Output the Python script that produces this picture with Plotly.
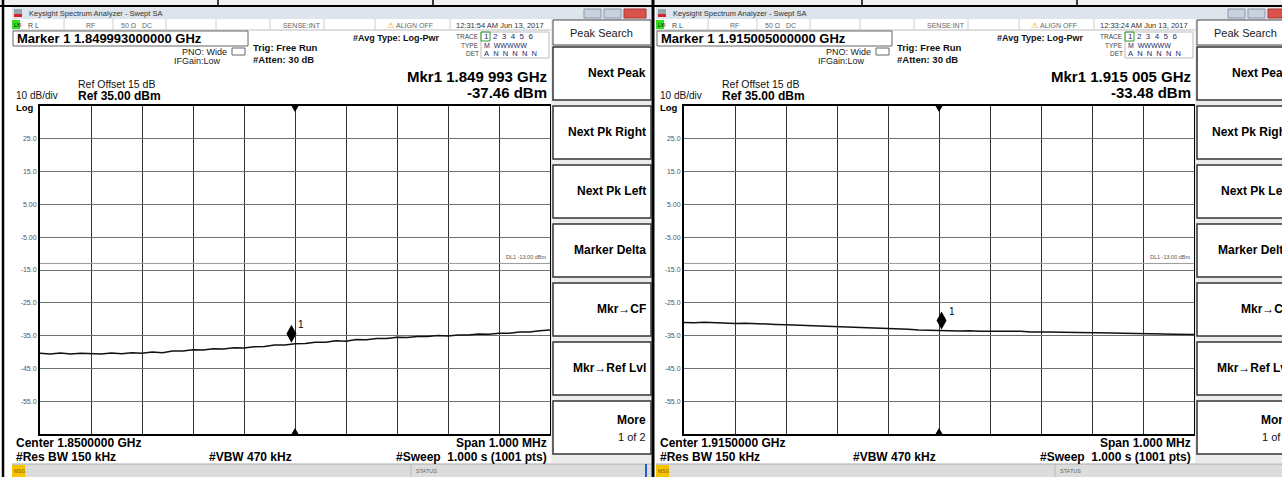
import plotly.graph_objects as go

W, H = 1282, 477

# ---------------- data ----------------
OFFSETS_KHZ = [-500, -480, -460, -440, -420, -400, -380, -360, -340, -320,
               -300, -280, -260, -240, -220, -200, -180, -160, -140, -120,
               -100, -80, -60, -40, -20, 0, 20, 40, 60, 80,
               100, 120, 140, 160, 180, 200, 220, 240, 260, 280,
               300, 320, 340, 360, 380, 400, 420, 440, 460, 480, 500]

LEFT_CENTER_MHZ = 1850.0
RIGHT_CENTER_MHZ = 1915.0
SPAN_MHZ = 1.0

LEFT_TRACE_DBM = [-40.4, -40.6, -40.3, -40.6, -40.4, -40.5, -40.6, -40.3, -40.5, -40.2,
                  -40.4, -40.0, -40.2, -39.7, -39.7, -39.3, -39.4, -39.0, -39.1, -38.7,
                  -38.8, -38.4, -38.3, -37.9, -37.9, -37.5, -37.4, -37.0, -37.0, -36.6,
                  -36.7, -36.2, -36.3, -35.9, -35.9, -35.5, -35.6, -35.3, -35.3, -35.0,
                  -35.1, -34.8, -34.8, -34.5, -34.6, -34.3, -34.3, -33.9, -33.9, -33.5, -33.3]

RIGHT_TRACE_DBM = [-31.0, -31.1, -30.9, -31.1, -31.2, -31.3, -31.2, -31.4, -31.4, -31.6,
                   -31.7, -31.8, -31.9, -32.0, -32.2, -32.3, -32.4, -32.5, -32.6, -32.8,
                   -32.9, -33.0, -33.1, -33.3, -33.3, -33.5, -33.5, -33.6, -33.5, -33.7,
                   -33.7, -33.6, -33.8, -33.7, -33.9, -33.8, -33.9, -34.0, -34.0, -34.1,
                   -34.1, -34.2, -34.2, -34.3, -34.3, -34.4, -34.5, -34.5, -34.6, -34.6, -34.7]

LEFT_MARKER_MHZ, LEFT_MARKER_DBM = 1849.993, -37.46
RIGHT_MARKER_MHZ, RIGHT_MARKER_DBM = 1915.005, -33.48

REF_LEVEL = 35.0
DB_PER_DIV = 10.0
N_DIV = 10
Y_TICKS = [25, 15, 5, -5, -15, -25, -35, -45, -55]
Y_TICK_TEXT = ["25.0", "15.0", "5.00", "-5.00", "-15.0", "-25.0", "-35.0", "-45.0", "-55.0"]
DISPLAY_LINE_DBM = -13.0

SOFTKEYS = ["Next Peak", "Next Pk Right", "Next Pk Left", "Marker Delta",
            "Mkr\u2192CF", "Mkr\u2192Ref Lvl", "More"]

SCREENS = [
    dict(dx=0, center=LEFT_CENTER_MHZ, trace=LEFT_TRACE_DBM,
         mk=LEFT_MARKER_MHZ, mkdb=LEFT_MARKER_DBM,
         marker_text="Marker 1 1.849993000000 GHz",
         mkr_freq="Mkr1 1.849 993 GHz", mkr_amp="-37.46 dBm",
         time="12:31:54 AM Jun 13, 2017",
         center_text="Center 1.8500000 GHz"),
    dict(dx=644, center=RIGHT_CENTER_MHZ, trace=RIGHT_TRACE_DBM,
         mk=RIGHT_MARKER_MHZ, mkdb=RIGHT_MARKER_DBM,
         marker_text="Marker 1 1.915005000000 GHz",
         mkr_freq="Mkr1 1.915 005 GHz", mkr_amp="-33.48 dBm",
         time="12:33:24 AM Jun 13, 2017",
         center_text="Center 1.9150000 GHz"),
]

# ---------------- helpers ----------------
shapes = []
annots = []
FONT = "Liberation Sans, Arial, sans-serif"
NARROW = "Liberation Sans Narrow, Arial Narrow, Liberation Sans, Arial, sans-serif"
NB = "\u00a0"


def rect(x0, y0, x1, y1, fill=None, line=None, lw=1):
    shapes.append(dict(type="rect", xref="paper", yref="paper",
                       x0=x0 / W, x1=x1 / W, y0=1 - y1 / H, y1=1 - y0 / H,
                       fillcolor=fill or "rgba(0,0,0,0)",
                       line=dict(color=line or "rgba(0,0,0,0)", width=lw if line else 0),
                       layer="above"))


def hline(x0, x1, y, color, lw=1):
    shapes.append(dict(type="line", xref="paper", yref="paper",
                       x0=x0 / W, x1=x1 / W, y0=1 - y / H, y1=1 - y / H,
                       line=dict(color=color, width=lw), layer="above"))


def vline(x, y0, y1, color, lw=1):
    shapes.append(dict(type="line", xref="paper", yref="paper",
                       x0=x / W, x1=x / W, y0=1 - y0 / H, y1=1 - y1 / H,
                       line=dict(color=color, width=lw), layer="above"))


def text(x, y, s, size=10, color="#000", bold=False, anchor="left", family=FONT):
    annots.append(dict(x=x / W, y=1 - y / H, xref="paper", yref="paper",
                       text=("<b>%s</b>" % s) if bold else s, showarrow=False,
                       xanchor=anchor, yanchor="middle", borderpad=0,
                       font=dict(size=size, color=color, family=family)))


fig = go.Figure()

# outer frame
rect(0, 0, W, 6, fill="#f1f1f1")
hline(0, W, 6, "#000", 2)
for xv in [218, 433, 862, 1077]:
    vline(xv, 0, 6, "#000", 1.5)
vline(3, 0, H, "#000", 2.5)
vline(653, 0, H, "#000", 3)

for i, sc in enumerate(SCREENS):
    dx = sc["dx"]
    ax = "" if i == 0 else "2"
    xname, yname = "x" + ax, "y" + ax

    # title bar
    rect(12 + dx, 7, 651 + dx, 19, fill="#dde4ec")
    rect(14 + dx, 9, 22 + dx, 17, fill="#9aa4ae")
    rect(14 + dx, 14, 22 + dx, 17, fill="#d2232a")
    text(28 + dx, 13, "Keysight Spectrum Analyzer - Swept SA", 7.5, "#333")
    rect(584 + dx, 9, 601 + dx, 18, fill="#c8d2de", line="#8a98a8")
    rect(604 + dx, 9, 621 + dx, 18, fill="#c8d2de", line="#8a98a8")
    rect(624 + dx, 9, 646 + dx, 18, fill="#d9534a", line="#a33")

    # status row
    rect(12 + dx, 19, 551 + dx, 30, fill="#ffffff")
    hline(12 + dx, 551 + dx, 30, "#bbb", 1)
    for sx in [64, 113, 166, 216, 270, 324, 375, 450]:
        vline(sx + dx, 19, 30, "#ccc", 1)
    rect(12 + dx, 20, 20 + dx, 29, fill="#33dd22")
    text(13 + dx, 25, "LXI", 5, "#000")
    text(27 + dx, 25, "R L", 7, "#444")
    text(85 + dx, 25, "RF", 7, "#666")
    text(120 + dx, 25, "50 \u03a9", 7, "#666")
    text(141 + dx, 25, "DC", 7, "#666")
    text(282 + dx, 25, "SENSE:INT", 7, "#666")
    text(386 + dx, 25, "\u26a0", 8, "#e0a000")
    text(395 + dx, 25, "ALIGN OFF", 7, "#666")
    text(455 + dx, 25, sc["time"], 7.5, "#333")

    # marker box
    rect(13 + dx, 31, 248 + dx, 46, fill="#fff", line="#666", lw=1)
    text(16 + dx, 39, sc["marker_text"], 13, "#000", bold=True)

    # header texts
    text(228 + dx, 52, "PNO: Wide", 9, "#222", anchor="right", family=NARROW)
    rect(232 + dx, 48, 245 + dx, 55, line="#666", lw=1)
    text(222 + dx, 61, "IFGain:Low", 9, "#222", anchor="right", family=NARROW)
    text(252 + dx, 48, "Trig: Free Run", 9.5, "#111", bold=True, family=NARROW)
    text(252 + dx, 59, "#Atten: 30 dB", 9.5, "#111", bold=True, family=NARROW)
    text(352 + dx, 38, "#Avg Type: Log-Pwr", 9, "#111", bold=True, family=NARROW)
    text(480 + dx, 36.5, "TRACE", 6.5, "#444", anchor="right")
    text(480 + dx, 45.5, "TYPE", 6.5, "#444", anchor="right")
    text(480 + dx, 54, "DET", 6.5, "#444", anchor="right")
    rect(481 + dx, 32, 549 + dx, 58, line="#bbb", lw=1)
    rect(481 + dx, 32, 490 + dx, 41, line="#2a9a2a", lw=1)
    text(483 + dx, 36.5, (NB * 2).join("123456"), 8, "#1a2a6a")
    text(483 + dx, 45.5, "M" + NB * 2 + "WWWWW", 7, "#1a2a6a")
    text(483 + dx, 54, (NB * 2).join("ANNNNN"), 7.5, "#1a2a6a")

    text(548 + dx, 76, sc["mkr_freq"], 15, "#000", bold=True, anchor="right")
    text(548 + dx, 92, sc["mkr_amp"], 15, "#000", bold=True, anchor="right")
    text(77 + dx, 84, "Ref Offset 15 dB", 10.5, "#111")
    text(77 + dx, 96, "Ref 35.00 dBm", 12, "#000", bold=True)
    text(15 + dx, 95, "10 dB/div", 10, "#111")
    text(15 + dx, 107, "Log", 9.5, "#000", bold=True)

    # bottom texts
    text(15 + dx, 443, sc["center_text"], 12, "#000", bold=True)
    text(548 + dx, 443, "Span 1.000 MHz", 12, "#000", bold=True, anchor="right")
    text(15 + dx, 457, "#Res BW 150 kHz", 12, "#000", bold=True)
    text(208 + dx, 457, "#VBW 470 kHz", 12, "#000", bold=True)
    text(548 + dx, 457, "#Sweep  1.000 s (1001 pts)", 12, "#000", bold=True, anchor="right")

    # status bar
    rect(12 + dx, 464, 651 + dx, H, fill="#dcdcdc")
    hline(12 + dx, 651 + dx, 464, "#aaa", 1)
    rect(12 + dx, 465, 25 + dx, H, fill="#f5c400")
    text(13 + dx, 471, "MSG", 5, "#7a5a00")
    vline(411 + dx, 464, H, "#bbb", 1)
    text(415 + dx, 471, "STATUS", 5.5, "#666")
    vline(646 + dx, 464, H, "#1f5fd0", 2)

    # softkey panel
    rect(551 + dx, 19, 651 + dx, 463, fill="#ececec")
    rect(553 + dx, 20, 651 + dx, 45, fill="#fff", line="#444", lw=1)
    text(601 + dx, 33, "Peak Search", 11, "#222", anchor="center")
    for k, lab in enumerate(SOFTKEYS):
        top = 47 + 59 * k
        rect(553 + dx, top, 651 + dx, top + 53, fill="#fff", line="#333", lw=1.5)
        if lab == "More":
            text(647 + dx, top + 19, lab, 12, "#000", bold=True, anchor="right")
            text(647 + dx, top + 36, "1 of 2", 11, "#111", anchor="right")
        else:
            text(647 + dx, top + 26, lab, 12, "#000", bold=True, anchor="right")

    # ---- the measurement grid (real axes) ----
    lo = sc["center"] - SPAN_MHZ / 2
    hi = sc["center"] + SPAN_MHZ / 2
    freqs = [sc["center"] + o / 1000.0 for o in OFFSETS_KHZ]
    fig.add_trace(go.Scatter(x=freqs, y=sc["trace"], mode="lines",
                             line=dict(color="#111", width=1.5),
                             xaxis=xname, yaxis=yname, showlegend=False,
                             hoverinfo="skip"))
    xa = dict(domain=[(40 + dx) / W, (550 + dx) / W], range=[lo, hi],
              tick0=lo, dtick=SPAN_MHZ / N_DIV, showgrid=True, gridcolor="#333333",
              gridwidth=1, showticklabels=False, ticks="", zeroline=False,
              showline=True, linecolor="#000", linewidth=2, mirror=True,
              anchor=yname, fixedrange=True)
    ya = dict(domain=[1 - 434 / H, 1 - 106 / H],
              range=[REF_LEVEL - DB_PER_DIV * N_DIV, REF_LEVEL],
              tickvals=Y_TICKS, ticktext=Y_TICK_TEXT, showgrid=True,
              gridcolor="#707070", gridwidth=1, ticks="", zeroline=False,
              tickfont=dict(size=7, color="#555", family=FONT),
              showline=True, linecolor="#000", linewidth=2, mirror=True,
              anchor=xname, fixedrange=True)
    fig.update_layout(**{"xaxis" + ax: xa, "yaxis" + ax: ya})

    # display line
    shapes.append(dict(type="line", xref=xname + " domain", yref=yname,
                       x0=0, x1=1, y0=DISPLAY_LINE_DBM, y1=DISPLAY_LINE_DBM,
                       line=dict(color="#9a9a9a", width=1), layer="above"))
    annots.append(dict(x=1, y=DISPLAY_LINE_DBM, xref=xname + " domain", yref=yname,
                       text="DL1 -13.00 dBm", showarrow=False, xanchor="right",
                       yanchor="bottom", xshift=-2, yshift=1,
                       font=dict(size=5.5, color="#555", family=FONT)))

    # centre triangles (top/bottom)
    shapes.append(dict(type="path", xref=xname, yref=yname, xsizemode="pixel",
                       ysizemode="pixel", xanchor=sc["center"], yanchor=REF_LEVEL,
                       path="M -3.5 0 L 3.5 0 L 0 -6 Z", fillcolor="#000",
                       line=dict(width=0), layer="above"))
    shapes.append(dict(type="path", xref=xname, yref=yname, xsizemode="pixel",
                       ysizemode="pixel", xanchor=sc["center"],
                       yanchor=REF_LEVEL - DB_PER_DIV * N_DIV,
                       path="M -3.5 0 L 3.5 0 L 0 6 Z", fillcolor="#000",
                       line=dict(width=0), layer="above"))

    # marker diamond sitting on the trace
    shapes.append(dict(type="path", xref=xname, yref=yname, xsizemode="pixel",
                       ysizemode="pixel", xanchor=sc["mk"], yanchor=sc["mkdb"],
                       path="M 0 1 L 5 10 L 0 19 L -5 10 Z", fillcolor="#000",
                       line=dict(width=0), layer="above"))
    annots.append(dict(x=sc["mk"], y=sc["mkdb"], xref=xname, yref=yname,
                       text="1", showarrow=False, xanchor="left", yanchor="bottom",
                       xshift=5, yshift=12, font=dict(size=10, color="#000", family=FONT)))

fig.update_layout(width=W, height=H, margin=dict(l=0, r=0, t=0, b=0),
                  paper_bgcolor="#ffffff", plot_bgcolor="#ffffff",
                  shapes=shapes, annotations=annots, showlegend=False)

fig.write_html("out.html", config={"displayModeBar": False, "staticPlot": True},
               post_script="document.body.style.margin='0';document.body.style.overflow='hidden';")
